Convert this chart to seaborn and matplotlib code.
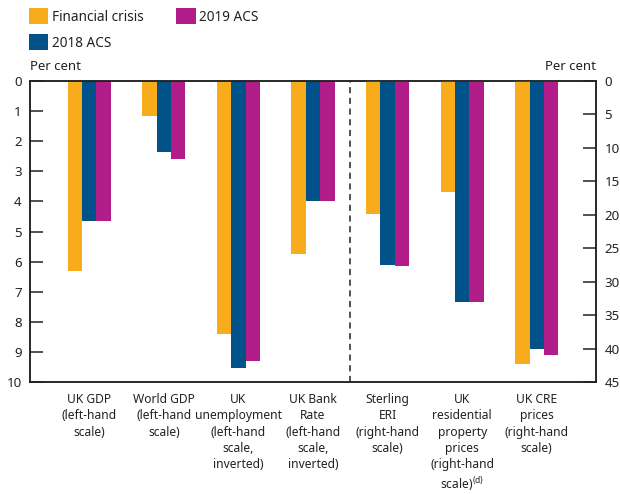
import matplotlib
matplotlib.use("Agg")
import matplotlib.pyplot as plt
import seaborn as sns
import pandas as pd

# Данные
categories = ["UK GDP\n(left-hand\nscale)",
              "World GDP\n(left-hand\nscale)",
              "UK\nunemployment\n(left-hand\nscale,\ninverted)",
              "UK Bank\nRate\n(left-hand\nscale,\ninverted)",
              "Sterling\nERI\n(right-hand\nscale)",
              "UK\nresidential\nproperty\nprices\n(right-hand\nscale)$^{\\mathrm{(d)}}$",
              "UK CRE\nprices\n(right-hand\nscale)"]
scale_side = ["left", "left", "left", "left", "right", "right", "right"]
series = ["Financial crisis", "2018 ACS", "2019 ACS"]
financial_crisis = [6.3, 1.15, 8.4, 5.75, 19.9, 16.6, 42.3]
acs_2018 = [4.65, 2.35, 9.55, 4.0, 27.5, 33.1, 40.0]
acs_2019 = [4.65, 2.6, 9.3, 4.0, 27.7, 33.1, 41.0]
colors = ["#F9AC1B", "#005289", "#B01C88"]

rows = []
for i, cat in enumerate(categories):
    for name, vals in zip(series, [financial_crisis, acs_2018, acs_2019]):
        rows.append({"category": cat, "series": name, "value": vals[i], "side": scale_side[i]})
df = pd.DataFrame(rows)

sns.set_style("white")
plt.rcParams["font.family"] = ["Noto Sans", "DejaVu Sans"]
plt.rcParams["mathtext.fontset"] = "custom"
plt.rcParams["mathtext.rm"] = "Noto Sans"
text_color = "#222222"

fig = plt.figure(figsize=(6.2, 4.94), dpi=100)
ax = fig.add_axes([30 / 620, 1 - 382 / 494, 566 / 620, 301 / 494])
ax2 = ax.twinx()

sns.barplot(data=df[df["side"] == "left"], x="category", y="value", hue="series",
            order=categories, hue_order=series, palette=colors, width=0.58,
            saturation=1, errorbar=None, ax=ax, legend=True)
sns.barplot(data=df[df["side"] == "right"], x="category", y="value", hue="series",
            order=categories, hue_order=series, palette=colors, width=0.58,
            saturation=1, errorbar=None, ax=ax2, legend=False)

for a in (ax, ax2):
    for p in a.patches:
        p.set_linewidth(0)

handles, labels = ax.get_legend_handles_labels()
ax.get_legend().remove()
fig.legend(handles, labels, ncol=2, loc="upper left", bbox_to_anchor=(29 / 620, 1 - 8 / 494),
           frameon=False, fontsize=9.8, handlelength=1.43, handleheight=1.45,
           handletextpad=0.25, columnspacing=2.4, labelspacing=0.7, labelcolor=text_color,
           borderpad=0, borderaxespad=0)

ax.set_xlim(-0.795, 6.795)
ax.set_ylim(10, 0)
ax2.set_ylim(45, 0)
ax.set_yticks(range(0, 11))
ax2.set_yticks(range(0, 46, 5))
ax.set_xlabel("")
ax.set_ylabel("")
ax2.set_ylabel("")

ax.set_xticks(range(len(categories)))
ax.set_xticklabels(categories, fontsize=8.7, color=text_color, linespacing=1.32, va="top")
ax.set_xticks([k - 0.5 for k in range(len(categories) + 1) if k != 4], minor=True)
ax.tick_params(axis="x", which="major", length=0, pad=8)
ax.tick_params(axis="x", which="minor", direction="in", length=11, width=1.1, color="#222222")
ax.tick_params(axis="y", direction="in", length=9.5, width=1.1, color="#222222",
               labelsize=9.6, labelcolor=text_color, pad=6)
ax2.tick_params(axis="y", direction="in", length=9.5, width=1.1, color="#222222",
                labelsize=9.6, labelcolor=text_color, pad=6)

for a in (ax, ax2):
    for s in a.spines.values():
        s.set_visible(True)
        s.set_color("#222222")
        s.set_linewidth(1.1)

ax.axvline(3.5, color="#222222", lw=1.1, ls=(0, (4, 3)))

fig.text(30 / 620, 1 - 67 / 494, "Per cent", fontsize=9.5, color=text_color, ha="left", va="center")
fig.text(596 / 620, 1 - 67 / 494, "Per cent", fontsize=9.5, color=text_color, ha="right", va="center")

plt.savefig("out.png", dpi=100)
